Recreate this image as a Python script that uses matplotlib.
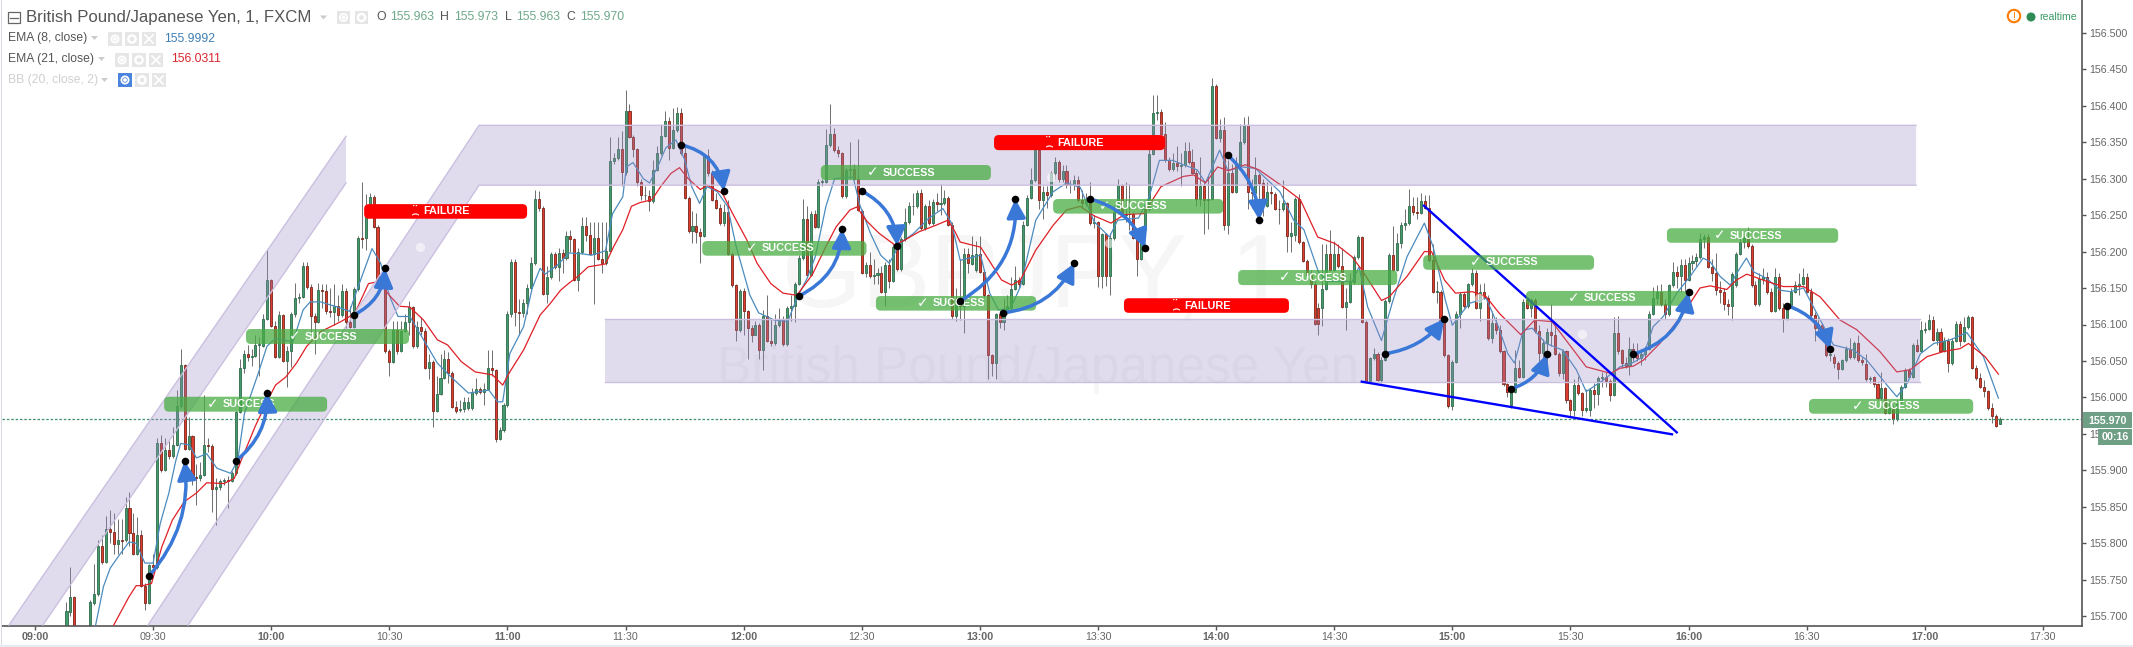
import numpy as np
import matplotlib
matplotlib.use("Agg")
import matplotlib.pyplot as plt
from matplotlib.patches import Polygon, Rectangle, Circle, FancyArrowPatch, FancyBboxPatch
from matplotlib.transforms import Affine2D

plt.rcParams['font.family'] = ['Liberation Sans', 'DejaVu Sans']

# bars are one minute apart, minutes counted from 09:00, prices are thousandths above 155
first_bar = 8
opens = [681, 706,
    726, 670, 660, 655, 672, 718, 730, 796, 775, 819,
    815, 799, 805, 804, 848, 814, 786, 811, 742, 718,
    770, 768, 937, 901, 928, 920, 935, 988, 1044, 930,
    947, 891, 889, 894, 935, 934, 874, 877, 885, 887,
    886, 896, 980, 1041, 1060, 1055, 1057, 1072, 1071, 1108,
    1161, 1098, 1056, 1113, 1050, 1064, 1114, 1137, 1138, 1180,
    1151, 1111, 1104, 1147, 1146, 1119, 1117, 1125, 1113, 1146,
    1104, 1097, 1148, 1219, 1218, 1262, 1275, 1234, 1161, 1155,
    1063, 1049, 1093, 1064, 1091, 1104, 1124, 1070, 1096, 1091,
    1041, 1049, 982, 1005, 1027, 1053, 1034, 987, 983, 984,
    985, 985, 1006, 1011, 1008, 1012, 1041, 1037, 943, 955,
    989, 1114, 1186, 1117, 1116, 1129, 1150, 1184, 1272, 1260,
    1142, 1165, 1197, 1179, 1198, 1191, 1222, 1217, 1161, 1200,
    1235, 1223, 1197, 1218, 1190, 1184, 1201, 1324, 1328, 1341,
    1309, 1392, 1357, 1340, 1296, 1277, 1276, 1269, 1312, 1335,
    1359, 1379, 1342, 1367, 1390, 1335, 1274, 1228, 1235, 1227,
    1222, 1331, 1308, 1271, 1260, 1239, 1254, 1197, 1154, 1092,
    1146, 1118, 1095, 1086, 1099, 1065, 1112, 1078, 1074, 1099,
    1108, 1073, 1123, 1125, 1156, 1191, 1245, 1168, 1252, 1234,
    1296, 1296, 1346, 1361, 1339, 1335, 1276, 1312, 1313, 1300,
    1255, 1171, 1182, 1166, 1168, 1170, 1145, 1181, 1160, 1206,
    1176, 1217, 1240, 1262, 1262, 1280, 1232, 1262, 1239, 1268,
    1265, 1266, 1274, 1237, 1111, 1128, 1125, 1197, 1183, 1175,
    1196, 1172, 1140, 1058, 1047, 1114, 1104, 1119, 1122, 1149,
    1161, 1156, 1237, 1274, 1298, 1339, 1271, 1281, 1277, 1307,
    1323, 1300, 1310, 1291, 1291, 1298, 1270, 1267, 1272, 1239,
    1240, 1166, 1224, 1166, 1218, 1254, 1291, 1250, 1251, 1252,
    1219, 1190, 1230, 1258, 1334, 1390, 1391, 1361, 1325, 1313,
    1322, 1317, 1318, 1338, 1323, 1308, 1272, 1290, 1271, 1272,
    1427, 1356, 1366, 1236, 1308, 1282, 1318, 1350, 1373, 1282,
    1280, 1305, 1294, 1263, 1281, 1279, 1259, 1258, 1266, 1222,
    1223, 1272, 1213, 1187, 1168, 1155, 1122, 1122, 1149, 1197,
    1175, 1197, 1180, 1124, 1131, 1158, 1192, 1220, 1104, 1022,
    1054, 1060, 1024, 1052, 1132, 1195, 1175, 1212, 1236, 1239,
    1262, 1254, 1253, 1269, 1260, 1188, 1145, 1145, 1106, 1058,
    988, 1049, 1115, 1142, 1125, 1155, 1171, 1123, 1145, 1137,
    1081, 1102, 1093, 1063, 1018, 990, 1008, 1041, 1028, 1134,
    1123, 1134, 1091, 1061, 1075, 1090, 1085, 1060, 1034, 1063,
    996, 983, 1017, 1006, 983, 983, 1010, 1005, 1027, 1028,
    1022, 1004, 1088, 1065, 1047, 1043, 1066, 1059, 1054, 1060,
    1067, 1115, 1137, 1144, 1128, 1114, 1154, 1172, 1167, 1181,
    1161, 1184, 1187, 1193, 1217, 1220, 1179, 1171, 1147, 1145,
    1128, 1125, 1154, 1197, 1213, 1218, 1207, 1154, 1128, 1162,
    1165, 1144, 1119, 1165, 1122, 1108, 1127, 1145, 1153, 1156,
    1165, 1145, 1113, 1095, 1100, 1088, 1058, 1056, 1047, 1039,
    1051, 1066, 1055, 1075, 1051, 1046, 1025, 1028, 1018, 999,
    1013, 979, 985, 970, 994, 1015, 1038, 1028, 1072, 1064,
    1092, 1094, 1106, 1079, 1090, 1064, 1078, 1047, 1078, 1101,
    1078, 1096, 1110, 1041, 1026, 1015, 1009, 985, 975, 963]
closes = [707, 726,
    670, 660, 655, 672, 719, 731, 796, 775, 819, 815,
    799, 805, 803, 848, 814, 786, 811, 742, 718, 770,
    768, 937, 901, 928, 920, 935, 988, 1044, 930, 947,
    891, 889, 894, 935, 934, 874, 877, 885, 887, 886,
    896, 980, 1041, 1060, 1055, 1057, 1072, 1072, 1108, 1161,
    1098, 1056, 1113, 1050, 1064, 1114, 1137, 1138, 1180, 1151,
    1111, 1104, 1147, 1146, 1119, 1117, 1125, 1113, 1146, 1104,
    1097, 1148, 1219, 1217, 1262, 1275, 1234, 1161, 1155, 1063,
    1049, 1093, 1064, 1091, 1104, 1124, 1070, 1096, 1091, 1041,
    1049, 982, 1005, 1027, 1053, 1034, 987, 982, 984, 994,
    994, 1008, 1011, 1008, 1012, 1041, 1037, 943, 955, 989,
    1114, 1186, 1117, 1116, 1129, 1150, 1184, 1272, 1260, 1142,
    1165, 1197, 1179, 1198, 1191, 1222, 1217, 1161, 1200, 1235,
    1223, 1197, 1218, 1190, 1184, 1201, 1324, 1328, 1341, 1309,
    1392, 1357, 1340, 1296, 1277, 1277, 1269, 1312, 1335, 1359,
    1379, 1342, 1367, 1390, 1335, 1274, 1228, 1235, 1227, 1222,
    1331, 1308, 1271, 1260, 1239, 1254, 1197, 1154, 1092, 1146,
    1118, 1095, 1086, 1099, 1065, 1112, 1078, 1074, 1099, 1108,
    1073, 1123, 1125, 1156, 1191, 1245, 1168, 1252, 1234, 1296,
    1296, 1346, 1361, 1339, 1335, 1276, 1312, 1313, 1300, 1257,
    1171, 1182, 1166, 1168, 1170, 1145, 1181, 1160, 1206, 1176,
    1217, 1240, 1262, 1262, 1280, 1232, 1262, 1239, 1268, 1265,
    1266, 1274, 1237, 1111, 1128, 1125, 1197, 1184, 1195, 1196,
    1172, 1140, 1058, 1047, 1114, 1104, 1119, 1126, 1149, 1161,
    1156, 1237, 1274, 1298, 1339, 1271, 1281, 1277, 1307, 1323,
    1300, 1310, 1291, 1292, 1298, 1270, 1267, 1272, 1239, 1240,
    1166, 1224, 1166, 1218, 1254, 1291, 1250, 1251, 1252, 1219,
    1190, 1220, 1258, 1334, 1390, 1391, 1361, 1325, 1313, 1322,
    1317, 1318, 1338, 1323, 1308, 1272, 1290, 1271, 1272, 1427,
    1356, 1366, 1236, 1308, 1282, 1318, 1350, 1373, 1282, 1280,
    1305, 1294, 1263, 1281, 1280, 1259, 1258, 1266, 1222, 1225,
    1272, 1213, 1187, 1168, 1155, 1101, 1101, 1149, 1197, 1175,
    1197, 1180, 1124, 1131, 1158, 1192, 1220, 1104, 1022, 1054,
    1060, 1024, 1052, 1132, 1195, 1175, 1212, 1236, 1239, 1262,
    1254, 1253, 1269, 1260, 1188, 1145, 1145, 1106, 1058, 988,
    1049, 1115, 1142, 1125, 1155, 1171, 1123, 1145, 1137, 1081,
    1102, 1093, 1063, 1018, 1008, 1012, 1041, 1028, 1131, 1123,
    1134, 1091, 1061, 1075, 1090, 1085, 1060, 1034, 1063, 996,
    983, 1017, 1006, 983, 985, 1010, 1005, 1027, 1028, 1022,
    1004, 1088, 1064, 1047, 1043, 1066, 1059, 1054, 1060, 1067,
    1115, 1137, 1144, 1128, 1114, 1154, 1172, 1167, 1181, 1161,
    1184, 1187, 1193, 1217, 1220, 1179, 1171, 1147, 1145, 1128,
    1125, 1169, 1197, 1213, 1218, 1207, 1154, 1128, 1162, 1165,
    1144, 1119, 1165, 1122, 1108, 1127, 1145, 1154, 1156, 1165,
    1145, 1113, 1095, 1100, 1088, 1058, 1059, 1047, 1039, 1051,
    1066, 1055, 1075, 1051, 1049, 1025, 1027, 1018, 999, 1013,
    979, 985, 970, 994, 1015, 1038, 1028, 1072, 1064, 1092,
    1094, 1106, 1079, 1090, 1064, 1078, 1047, 1078, 1101, 1078,
    1096, 1110, 1041, 1026, 1015, 1009, 985, 975, 961, 970]
highs = [720, 767,
    728, 675, 670, 678, 722, 772, 805, 811, 838, 846,
    841, 834, 834, 864, 871, 841, 836, 818, 745, 772,
    785, 945, 948, 944, 940, 960, 1010, 1067, 1046, 973,
    949, 909, 911, 1003, 944, 936, 889, 888, 890, 892,
    899, 982, 1053, 1065, 1072, 1066, 1085, 1083, 1115, 1203,
    1162, 1105, 1118, 1115, 1070, 1117, 1157, 1143, 1186, 1186,
    1156, 1116, 1157, 1155, 1155, 1150, 1155, 1140, 1155, 1150,
    1125, 1152, 1222, 1295, 1279, 1280, 1278, 1236, 1165, 1180,
    1066, 1105, 1105, 1105, 1115, 1132, 1126, 1105, 1110, 1095,
    1060, 1052, 1030, 1060, 1065, 1062, 1036, 995, 996, 1000,
    1001, 1013, 1027, 1015, 1020, 1065, 1065, 1039, 960, 992,
    1118, 1190, 1190, 1135, 1135, 1155, 1192, 1285, 1283, 1262,
    1180, 1199, 1199, 1205, 1203, 1228, 1230, 1219, 1205, 1248,
    1248, 1240, 1240, 1240, 1241, 1240, 1357, 1335, 1357, 1365,
    1421, 1402, 1360, 1342, 1300, 1290, 1285, 1325, 1345, 1375,
    1392, 1385, 1397, 1398, 1397, 1345, 1276, 1255, 1253, 1232,
    1335, 1340, 1312, 1280, 1265, 1265, 1270, 1200, 1156, 1148,
    1150, 1120, 1100, 1105, 1102, 1120, 1141, 1108, 1115, 1122,
    1112, 1125, 1140, 1158, 1195, 1272, 1262, 1255, 1257, 1300,
    1300, 1368, 1402, 1369, 1345, 1337, 1315, 1350, 1320, 1354,
    1258, 1185, 1200, 1190, 1178, 1180, 1186, 1190, 1210, 1215,
    1220, 1260, 1268, 1280, 1285, 1286, 1265, 1270, 1272, 1280,
    1292, 1285, 1276, 1240, 1150, 1190, 1205, 1205, 1222, 1215,
    1222, 1176, 1142, 1060, 1116, 1118, 1135, 1140, 1165, 1180,
    1165, 1242, 1277, 1315, 1350, 1340, 1290, 1290, 1310, 1330,
    1325, 1319, 1319, 1298, 1305, 1304, 1285, 1280, 1295, 1250,
    1242, 1226, 1226, 1225, 1262, 1300, 1293, 1295, 1292, 1254,
    1222, 1226, 1265, 1341, 1414, 1414, 1395, 1378, 1330, 1335,
    1345, 1335, 1350, 1350, 1340, 1312, 1330, 1295, 1305, 1438,
    1430, 1382, 1384, 1325, 1320, 1330, 1375, 1385, 1386, 1300,
    1330, 1308, 1300, 1295, 1290, 1281, 1270, 1298, 1268, 1240,
    1275, 1279, 1215, 1190, 1175, 1160, 1130, 1210, 1210, 1230,
    1215, 1210, 1205, 1150, 1170, 1195, 1223, 1222, 1106, 1056,
    1068, 1062, 1055, 1135, 1198, 1235, 1225, 1240, 1258, 1286,
    1275, 1275, 1280, 1278, 1277, 1210, 1160, 1147, 1108, 1060,
    1051, 1118, 1145, 1145, 1157, 1178, 1175, 1155, 1157, 1140,
    1118, 1110, 1100, 1065, 1020, 1015, 1065, 1052, 1135, 1138,
    1137, 1136, 1100, 1080, 1095, 1128, 1100, 1062, 1066, 1065,
    998, 1025, 1030, 1008, 1012, 1013, 1020, 1030, 1035, 1035,
    1025, 1110, 1112, 1067, 1055, 1083, 1075, 1075, 1066, 1070,
    1118, 1152, 1154, 1155, 1135, 1156, 1186, 1180, 1190, 1190,
    1192, 1195, 1198, 1225, 1224, 1224, 1190, 1198, 1160, 1150,
    1135, 1172, 1200, 1219, 1225, 1234, 1210, 1160, 1170, 1178,
    1172, 1150, 1178, 1170, 1130, 1130, 1150, 1160, 1170, 1178,
    1170, 1150, 1117, 1110, 1102, 1090, 1065, 1060, 1050, 1053,
    1070, 1082, 1078, 1085, 1055, 1060, 1030, 1030, 1020, 1035,
    1015, 995, 990, 997, 1017, 1041, 1040, 1075, 1080, 1105,
    1103, 1114, 1112, 1095, 1095, 1083, 1082, 1082, 1105, 1105,
    1110, 1113, 1112, 1044, 1033, 1024, 1010, 992, 977, 973]
lows = [670, 701,
    660, 650, 645, 650, 668, 715, 728, 772, 773, 800,
    786, 786, 786, 802, 797, 784, 784, 740, 709, 717,
    760, 765, 898, 899, 915, 917, 933, 985, 928, 928,
    880, 852, 885, 892, 925, 843, 825, 873, 880, 848,
    884, 894, 978, 1033, 1050, 1043, 1055, 1030, 1069, 1106,
    1096, 1054, 1054, 1048, 1015, 1042, 1110, 1130, 1136, 1149,
    1090, 1060, 1102, 1122, 1115, 1110, 1100, 1105, 1110, 1095,
    1095, 1095, 1146, 1205, 1202, 1260, 1232, 1159, 1150, 1061,
    1030, 1047, 1060, 1062, 1090, 1085, 1068, 1068, 1085, 1039,
    1025, 960, 980, 1003, 1025, 1020, 985, 978, 980, 980,
    983, 983, 1004, 1005, 990, 1010, 1030, 939, 941, 953,
    987, 1110, 1098, 1085, 1110, 1115, 1148, 1182, 1255, 1140,
    1130, 1163, 1176, 1160, 1170, 1189, 1200, 1159, 1146, 1197,
    1215, 1195, 1128, 1188, 1170, 1182, 1199, 1320, 1326, 1290,
    1305, 1355, 1330, 1290, 1270, 1270, 1255, 1267, 1310, 1333,
    1357, 1325, 1340, 1364, 1332, 1272, 1226, 1212, 1212, 1184,
    1220, 1304, 1269, 1258, 1237, 1235, 1195, 1152, 1078, 1090,
    1085, 1053, 1076, 1085, 1053, 1037, 1076, 1070, 1072, 1097,
    1071, 1071, 1105, 1103, 1154, 1189, 1166, 1166, 1232, 1232,
    1290, 1294, 1344, 1337, 1330, 1274, 1274, 1300, 1298, 1255,
    1169, 1165, 1164, 1155, 1155, 1143, 1125, 1150, 1158, 1174,
    1174, 1215, 1238, 1250, 1260, 1230, 1230, 1237, 1237, 1255,
    1250, 1264, 1235, 1108, 1105, 1106, 1089, 1170, 1181, 1172,
    1170, 1138, 1025, 1030, 1025, 1095, 1093, 1115, 1120, 1147,
    1150, 1154, 1235, 1272, 1296, 1259, 1245, 1260, 1275, 1300,
    1295, 1295, 1287, 1280, 1285, 1268, 1260, 1262, 1237, 1232,
    1152, 1150, 1153, 1140, 1216, 1252, 1248, 1240, 1230, 1217,
    1166, 1188, 1228, 1256, 1332, 1380, 1359, 1323, 1310, 1311,
    1310, 1290, 1316, 1320, 1306, 1262, 1262, 1224, 1231, 1270,
    1354, 1350, 1230, 1224, 1280, 1280, 1316, 1348, 1258, 1260,
    1270, 1260, 1249, 1261, 1265, 1257, 1238, 1256, 1200, 1200,
    1215, 1211, 1185, 1166, 1150, 1099, 1086, 1098, 1147, 1173,
    1173, 1178, 1122, 1092, 1129, 1156, 1190, 1102, 1020, 1020,
    1052, 1022, 1020, 1050, 1130, 1173, 1173, 1205, 1230, 1237,
    1250, 1245, 1251, 1258, 1186, 1143, 1130, 1104, 1056, 985,
    983, 1047, 1095, 1123, 1123, 1153, 1121, 1105, 1135, 1079,
    1075, 1087, 1061, 1016, 1000, 985, 1006, 1026, 1026, 1121,
    1110, 1089, 1050, 1040, 1050, 1070, 1058, 1030, 1025, 993,
    975, 975, 1003, 975, 980, 975, 985, 990, 1015, 1015,
    995, 1002, 1060, 1040, 1040, 1031, 1050, 1050, 1045, 1052,
    1065, 1113, 1128, 1126, 1108, 1112, 1152, 1150, 1145, 1145,
    1159, 1175, 1180, 1190, 1205, 1177, 1160, 1140, 1130, 1120,
    1113, 1106, 1152, 1195, 1205, 1205, 1152, 1126, 1126, 1155,
    1142, 1117, 1117, 1120, 1090, 1106, 1125, 1143, 1140, 1154,
    1143, 1110, 1077, 1090, 1086, 1056, 1050, 1040, 1025, 1037,
    1049, 1053, 1053, 1049, 1045, 1023, 1020, 1015, 997, 997,
    977, 977, 964, 968, 992, 1013, 1026, 1026, 1062, 1062,
    1088, 1092, 1077, 1072, 1062, 1062, 1035, 1045, 1076, 1070,
    1076, 1094, 1039, 1024, 1013, 1000, 983, 965, 959, 963]

# EMA lines at their turning points
ema8_t = [15.4, 17.4, 19.1, 21.7, 23.9, 25.7, 27.9, 30, 31.8, 34, 35.7, 37, 39.2, 41, 43.6, 46.2, 49.7, 51.5, 53.2, 56.7,
    58.9, 61.1, 65.5, 68.1, 69.9, 72.5, 76.8, 79.9, 82.1, 85.6, 87.8, 90, 92.2, 95.2, 98.7, 102.2, 105.7, 110.1, 115.3, 117.5,
    118.8, 120.6, 124.1, 126.3, 128.3, 129.6, 132.6, 135.7, 138.8, 141.4, 144.9, 146.7, 149.3, 150.2, 151.9, 154.5, 156.1, 158.4, 160.2, 162.8,
    165, 166.8, 168.8, 170.7, 173.3, 175.9, 178.1, 181.6, 183.8, 187.8, 191.2, 193.5, 196.1, 198.2, 200.9, 203.1, 207.8, 209.5, 212.2, 214.8,
    217, 219.7, 223.2, 227.1, 230.6, 232.8, 235, 240.2, 242.5, 244.7, 247.8, 250.3, 254.2, 258.6, 262, 265.5, 269, 272.9, 275, 280.3,
    283, 285.6, 289, 291.7, 295.2, 297.3, 300.9, 303, 306.5, 310, 316.2, 319.7, 322.3, 326, 328.5, 334.6, 336.3, 338.5, 342, 344.7,
    348.5, 352.9, 355.1, 358.2, 360, 364.3, 368.6, 371.7, 374.1, 375.8, 378, 380.3, 383.8, 388, 391.5, 394, 398.4, 402.6, 406, 408.5,
    411, 413.6, 417, 420.4, 423.7, 425.5, 428, 430.6, 432.2, 434.7, 436.6, 439.9, 443.3, 445.9, 449.2, 452.6, 456.8, 461.9, 465.3, 470.4,
    472.9, 475.5, 478.9, 482.3, 486.5, 490.7, 494.9, 498.7]
ema8_v = [688, 741, 766, 786, 802, 800, 773, 773, 827, 869, 912, 937, 935, 917, 923, 903, 896, 914, 978, 1033,
    1070, 1081, 1076, 1120, 1131, 1131, 1124, 1118, 1152, 1204, 1184, 1140, 1111, 1111, 1079, 1047, 1028, 1006, 1010, 994,
    994, 1060, 1097, 1150, 1177, 1169, 1181, 1198, 1197, 1195, 1201, 1252, 1275, 1316, 1322, 1300, 1294, 1319, 1342, 1353,
    1326, 1289, 1266, 1289, 1282, 1262, 1207, 1140, 1116, 1106, 1104, 1136, 1163, 1193, 1262, 1300, 1302, 1264, 1225, 1195,
    1184, 1211, 1225, 1246, 1259, 1239, 1188, 1195, 1143, 1120, 1122, 1152, 1243, 1282, 1294, 1288, 1241, 1220, 1243, 1246,
    1275, 1325, 1325, 1319, 1312, 1294, 1339, 1311, 1316, 1314, 1282, 1243, 1230, 1172, 1159, 1159, 1179, 1124, 1078, 1129,
    1193, 1239, 1207, 1134, 1099, 1129, 1136, 1097, 1060, 1047, 1092, 1095, 1074, 1065, 1038, 1008, 1024, 1042, 1048, 1056,
    1097, 1111, 1143, 1166, 1191, 1186, 1166, 1154, 1170, 1191, 1172, 1163, 1147, 1145, 1150, 1115, 1072, 1065, 1051, 1017,
    1001, 1019, 1060, 1074, 1079, 1089, 1056, 999]
ema21_t = [20, 23.9, 25.7, 27.4, 29.6, 32.2, 34.9, 37.9, 41, 43.6, 48, 50.6, 52.4, 55.9, 58.5, 61.1, 63.7, 66.4, 69, 72.5,
    77.7, 81.2, 84.7, 87.3, 90, 92.6, 95.2, 98.7, 102.2, 104.8, 108.3, 111.8, 116.2, 118.8, 120.6, 124.1, 128.3, 130.9, 133.5, 135.7,
    137.9, 140.5, 144.9, 147, 149.3, 151.5, 153.6, 156.7, 158.9, 161.5, 163.7, 165.9, 169, 170.7, 174.6, 177.2, 180.8, 183.4, 186.9, 190,
    193.5, 197.4, 200.9, 203.5, 207, 208.7, 211.4, 214.4, 218.4, 221, 224.5, 228.8, 231.9, 233.7, 235, 240.2, 242.8, 245.5, 248.1, 250.3,
    254.2, 258.6, 262, 265.5, 269, 273.3, 276.8, 281.6, 286, 291.7, 294.3, 297.3, 300.4, 303, 307.4, 310.9, 317, 321.4, 325.8, 330.2,
    334.5, 337, 342, 344, 348.5, 352.9, 354.7, 358, 360.8, 365.1, 368.6, 372, 377.4, 380.9, 385.3, 388.8, 394, 400.2, 402.6, 406,
    408.5, 412.7, 418.7, 422.9, 425.5, 429.7, 432.2, 434.8, 439.9, 444.1, 449.2, 453.4, 458.5, 462.7, 468.6, 472.9, 476.3, 480.6, 484.8, 489,
    491.1, 495.3, 498.7]
ema21_v = [688, 727, 742, 742, 745, 795, 832, 857, 869, 883, 882, 889, 914, 960, 990, 1017, 1028, 1047, 1070, 1090,
    1104, 1115, 1156, 1159, 1140, 1125, 1124, 1106, 1079, 1072, 1049, 1035, 1031, 1017, 1035, 1065, 1113, 1129, 1147, 1157,
    1166, 1179, 1183, 1207, 1230, 1262, 1267, 1271, 1289, 1307, 1315, 1300, 1285, 1291, 1280, 1252, 1216, 1184, 1156, 1143,
    1140, 1168, 1207, 1234, 1257, 1261, 1241, 1225, 1209, 1216, 1227, 1236, 1243, 1227, 1213, 1206, 1184, 1161, 1154, 1161,
    1202, 1236, 1257, 1262, 1249, 1239, 1251, 1252, 1289, 1303, 1305, 1294, 1316, 1311, 1319, 1312, 1289, 1271, 1220, 1211,
    1193, 1175, 1133, 1138, 1166, 1200, 1200, 1161, 1143, 1145, 1138, 1115, 1086, 1106, 1104, 1079, 1042, 1033, 1040, 1043,
    1051, 1074, 1115, 1150, 1153, 1148, 1161, 1169, 1159, 1152, 1152, 1138, 1106, 1093, 1063, 1035, 1038, 1056, 1063, 1067,
    1074, 1056, 1032]

# drawn overlays, in the same minutes and thousandths
band_a_t = [-6.6, 79, 79, 2]
band_a_v = [688, 1358, 1294, 688]
band_b_t = [28.7, 112.8, 477.8, 477.8, 112.8, 38.9]
band_b_v = [688, 1373, 1373, 1291, 1291, 688]
band_c_t = [144.8, 478.8, 478.8, 144.8]
band_c_v = [1107.5, 1107.5, 1021.8, 1021.8]

success_left = [32.8, 53.6, 169.5, 199.6, 213.6, 258.6, 305.6, 352.6, 378.7, 414.5, 450.6]
success_right = [74.2, 95, 211.2, 242.8, 254.3, 301.8, 346, 396, 419.6, 458, 492.3]
success_low = [980.5, 1073.3, 1194.3, 1298, 1119, 1252, 1154, 1175, 1125.7, 1212, 977.7]
success_high = [1001, 1093.8, 1214.4, 1318.6, 1139, 1272, 1174.7, 1195, 1146, 1232, 998]
failure_left = [83.6, 243.6, 276.6]
failure_right = [125, 287, 318.5]
failure_low = [1245, 1339, 1116]
failure_high = [1265, 1359.7, 1136]

arrow_t0 = [29, 51, 81, 164.1, 194, 210, 235, 245.9, 268, 303, 343, 375, 405.8, 445]
arrow_v0 = [755.6, 912.9, 1113, 1346.4, 1139, 1283, 1132, 1116, 1272, 1332, 1060, 1012, 1059, 1126]
arrow_t1 = [38, 58.9, 88.9, 175, 205, 219, 249, 264, 282, 311, 358, 384, 420, 456]
arrow_v1 = [912.9, 1006.5, 1177, 1283, 1231, 1208, 1272, 1184, 1205, 1243, 1108, 1059, 1144, 1066]
arrow_bend = [0.22, 0.25, 0.28, -0.33, 0.3, -0.28, 0.3, 0.27, -0.25, -0.2, 0.2, 0.25, 0.3, -0.25]

wedge_top_t = [352.8, 417]
wedge_top_v = [1262.8, 952.2]
wedge_low_t = [337, 415.8]
wedge_low_v = [1021.6, 949.5]

clock_t = [97.8, 393, 366.8, 272.8, 258, 228.4]
clock_v = [1206, 1087, 1136, 1212, 1302, 1157]

last_price = 970
y_ticks = [155.7, 155.75, 155.8, 155.85, 155.9, 155.95, 156.0, 156.05, 156.1, 156.15, 156.2, 156.25, 156.3, 156.35, 156.4, 156.45, 156.5]
x_tick_minutes = list(range(0, 511, 30))
x_tick_labels = ['09:00', '09:30', '10:00', '10:30', '11:00', '11:30', '12:00', '12:30', '13:00', '13:30',
    '14:00', '14:30', '15:00', '15:30', '16:00', '16:30', '17:00', '17:30']


def price(v):
    return 155 + np.asarray(v, dtype=float) / 1000


W, H = 2133, 647
GREY = '#555555'
fig = plt.figure(figsize=(W / 100, H / 100), dpi=100, facecolor='white')
ax = fig.add_axes([2 / W, (H - 626) / H, 2080 / W, 626 / H])
# header and price tags are placed in picture pixels
px = Affine2D().scale(1 / W, -1 / H).translate(0, 1) + fig.transFigure

# faint watermark
ax.text(1035, 280, 'GBPJPY, 1', transform=px, fontsize=74, color='#f6f6f6', ha='center', va='center', zorder=0.5)
ax.text(1038, 370, 'British Pound/Japanese Yen', transform=px, fontsize=37, color='#f6f6f6', ha='center', va='center', zorder=0.5)

times = first_bar + np.arange(len(closes))
o, c, h, l = price(opens), price(closes), price(highs), price(lows)
up = c >= o
ax.vlines(times, l, h, color='#6e6e6e', lw=0.7, zorder=2)
body_low = np.minimum(o, c)
body_size = np.maximum(np.abs(c - o), 0.0008)
ax.bar(times[up], body_size[up], bottom=body_low[up], width=0.52, color='#429a6e', edgecolor='#2f6b4a', lw=0.6, zorder=2.2)
ax.bar(times[~up], body_size[~up], bottom=body_low[~up], width=0.52, color='#dc3d2e', edgecolor='#7a2418', lw=0.6, zorder=2.2)

ax.plot(ema8_t, price(ema8_v), color='#4b8bbe', lw=0.9, zorder=3)
ax.plot(ema21_t, price(ema21_v), color='#e01f26', lw=0.9, zorder=3)

ax.axhline(price(last_price), color='#3f8f68', lw=0.9, ls=(0, (2, 1.5)), zorder=2.6)

# fill first, then only the long edges: the short ends of the channels carry no outline
band_edges = [(band_a_t, band_a_v, [(0, 2), (2, 4)]), (band_b_t, band_b_v, [(0, 3), (3, 6)]), (band_c_t, band_c_v, [(0, 2), (2, 4)])]
for bt, bv, parts in band_edges:
    ax.add_patch(Polygon(np.column_stack([bt, price(bv)]), closed=True, facecolor='#9c8cc6', edgecolor='none', alpha=0.3, zorder=4))
    for start, stop in parts:
        ax.plot(bt[start:stop], price(bv[start:stop]), color='#cbbfe0', lw=1.0, zorder=4.1)

ax.scatter(clock_t, price(clock_v), s=45, color='white', alpha=0.55, linewidths=0, zorder=4.2)

ax.plot(wedge_top_t, price(wedge_top_v), color='#0000ff', lw=1.7, zorder=5)
ax.plot(wedge_low_t, price(wedge_low_v), color='#0000ff', lw=1.7, zorder=5)

aspect = (1 / 729.5) * 3.937
for x0, x1, lo, hi in zip(success_left, success_right, success_low, success_high):
    ax.add_patch(FancyBboxPatch((x0, price(lo)), x1 - x0, price(hi) - price(lo), boxstyle='round,pad=0,rounding_size=1.2',
                                mutation_aspect=aspect, facecolor='#48ac43', edgecolor='none', alpha=0.75, zorder=5.5))
    mid = (x0 + x1) / 2
    ax.text(mid + 0.8, price((lo + hi) / 2), 'SUCCESS', color='white', fontsize=7.8, fontweight='bold', ha='center', va='center', zorder=5.6)
    ax.text(mid - 8.4, price((lo + hi) / 2), '✓', color='white', fontsize=10, fontweight='bold', ha='center', va='center', zorder=5.6)
for x0, x1, lo, hi in zip(failure_left, failure_right, failure_low, failure_high):
    ax.add_patch(FancyBboxPatch((x0, price(lo)), x1 - x0, price(hi) - price(lo), boxstyle='round,pad=0,rounding_size=1.2',
                                mutation_aspect=aspect, facecolor='#ff0000', edgecolor='none', zorder=5.5))
    mid = (x0 + x1) / 2
    ax.text(mid + 0.2, price((lo + hi) / 2), 'FAILURE', color='white', fontsize=7.8, fontweight='bold', ha='center', va='center', zorder=5.6)
    # the little sad face: two dots over a turned bracket
    ax.text(mid - 7.9, price((lo + hi) / 2) + 0.0012, '¨', color='white', fontsize=9, fontweight='bold', ha='center', va='center', zorder=5.6)
    ax.text(mid - 7.9, price((lo + hi) / 2) - 0.0034, '(', color='white', fontsize=6, fontweight='bold', rotation=-90, ha='center', va='center', zorder=5.6)

for t0, v0, t1, v1, bend in zip(arrow_t0, arrow_v0, arrow_t1, arrow_v1, arrow_bend):
    ax.add_patch(FancyArrowPatch((t0, price(v0)), (t1, price(v1)), connectionstyle='arc3,rad=%s' % bend,
                                 arrowstyle='-|>,head_length=0.75,head_width=0.38', mutation_scale=15, lw=2.5,
                                 color='#3a78d8', shrinkA=0, shrinkB=0, zorder=6))
ax.scatter(arrow_t0 + arrow_t1, price(arrow_v0 + arrow_v1), s=30, color='black', linewidths=0, zorder=7)

ax.set_xlim((2 - 35) / 3.937, (2082 - 35) / 3.937)
ax.set_ylim(156.5 - (626 - 32.7) / 729.5, 156.5 + 32.7 / 729.5)
ax.yaxis.tick_right()
ax.set_yticks(y_ticks)
ax.set_yticklabels(['%.3f' % v for v in y_ticks])
ax.set_xticks(x_tick_minutes)
ax.set_xticklabels(x_tick_labels)
ax.tick_params(axis='y', length=3, width=1, color=GREY, labelsize=7.7, labelcolor='#666666', pad=2.5)
ax.tick_params(axis='x', length=3, width=1, color=GREY, labelsize=7.7, labelcolor='#666666', pad=1.5)
for lab, text in zip(ax.get_xticklabels(), x_tick_labels):
    if text.endswith(':00'):
        lab.set_fontweight('bold')
ax.spines['top'].set_visible(False)
ax.spines['left'].set_visible(False)
ax.spines['right'].set_color(GREY)
ax.spines['bottom'].set_color(GREY)
ax.spines['right'].set_linewidth(1.2)
ax.spines['bottom'].set_linewidth(1.2)


def label(x, y, s, color='#555555', size=9.0, **kw):
    ax.text(x, y, s, transform=px, color=color, fontsize=size, va='center', clip_on=False, zorder=9, **kw)


def box(x0, y0, x1, y1, color, **kw):
    ax.add_patch(Rectangle((x0, y0), x1 - x0, y1 - y0, transform=px, facecolor=color, edgecolor=kw.pop('edge', 'none'),
                           clip_on=False, zorder=8.5, **kw))


def icon(x0, y0, kind='eye', color='#e6e6e6', size=14):
    box(x0, y0, x0 + size, y0 + size, color)
    cx, cy = x0 + size / 2, y0 + size / 2
    if kind == 'eye':
        ax.add_patch(Circle((cx, cy), 3.6, transform=px, fill=False, edgecolor='white', lw=1.3, clip_on=False, zorder=9))
        ax.add_patch(Circle((cx, cy), 1.2, transform=px, color='white', clip_on=False, zorder=9))
    elif kind == 'gear':
        ax.add_patch(Circle((cx, cy), 3.6, transform=px, fill=False, edgecolor='white', lw=1.8, clip_on=False, zorder=9))
    else:
        ax.plot([cx - 4, cx + 4], [cy - 4, cy + 4], transform=px, color='white', lw=1.3, clip_on=False, zorder=9)
        ax.plot([cx - 4, cx + 4], [cy + 4, cy - 4], transform=px, color='white', lw=1.3, clip_on=False, zorder=9)


def caret(x, y, color='#cccccc'):
    ax.add_patch(Polygon([(x, y - 2), (x + 7, y - 2), (x + 3.5, y + 2)], transform=px, facecolor=color, edgecolor='none', clip_on=False, zorder=9))


# header
ax.add_patch(Rectangle((8, 12), 12, 11, transform=px, fill=False, edgecolor='#666666', lw=0.9, clip_on=False, zorder=9))
ax.plot([10, 18], [17.5, 17.5], transform=px, color='#666666', lw=0.9, clip_on=False, zorder=9)
label(26, 17.5, 'British Pound/Japanese Yen, 1, FXCM', size=12.1)
caret(320, 17.5)
icon(337, 11, 'eye', size=13)
icon(355, 11, 'gear', size=13)
for x_pos, s, col in [(376, 'O', '#555555'), (390.5, '155.963', '#6ea98a'), (440, 'H', '#555555'), (454, '155.973', '#6ea98a'),
                      (504.5, 'L', '#555555'), (516.5, '155.963', '#6ea98a'), (566, 'C', '#555555'), (580, '155.970', '#6ea98a')]:
    label(x_pos, 17.5, s, color=col, size=8.8)

label(7.5, 38, 'EMA (8, close)', size=8.7)
caret(91, 38)
icon(108, 32, 'eye')
icon(125, 32, 'gear')
icon(142, 32, 'x')
label(164, 38.5, '155.9992', color='#3d7fb5', size=8.8)

label(7.5, 59, 'EMA (21, close)', size=8.7)
caret(98, 59)
icon(115, 53, 'eye')
icon(132, 53, 'gear')
icon(149, 53, 'x')
label(171, 59.5, '156.0311', color='#d9262e', size=8.8)

label(7.5, 80, 'BB (20, close, 2)', color='#cfcfcf', size=8.7)
caret(101, 80)
icon(118, 73, 'eye', color='#4a84dc')
icon(135, 73, 'gear')
icon(152, 73, 'x')

# realtime flag
ax.add_patch(Circle((2014, 16), 6.2, transform=px, fill=False, edgecolor='#ff7a00', lw=1.5, clip_on=False, zorder=9))
ax.text(2014, 16.5, '!', transform=px, color='#ff7a00', fontsize=8, ha='center', va='center', clip_on=False, zorder=9)
ax.add_patch(Circle((2031, 17), 3.8, transform=px, color='#2e8b57', clip_on=False, zorder=9))
label(2039, 16.5, 'realtime', color='#3b9a66', size=7.6)

# last price tags
box(2083, 412, 2132, 428, '#6f9f85')
label(2107.5, 420.5, '155.970', color='white', size=7.7, fontweight='bold', ha='center')
box(2098, 429, 2132, 445, '#6f9f85')
label(2115, 437.5, '00:16', color='white', size=7.7, fontweight='bold', ha='center')

# chart frame, the light edges of the page
box(1, 0, 2, 645, '#d9d9e3')
box(0, 645, W, H, '#e9e9f0')

fig.savefig('out.png', dpi=100, facecolor='white')
